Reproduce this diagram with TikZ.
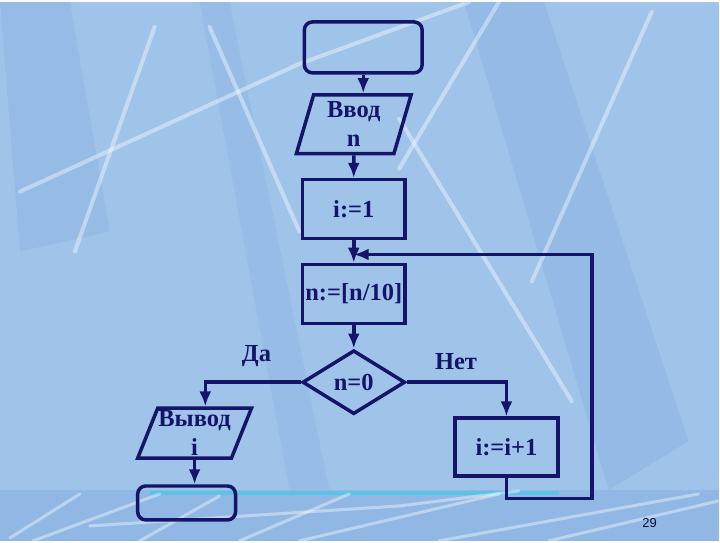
\documentclass[tikz,border=0pt]{standalone}
\usepackage{fontspec}
\setmainfont{Liberation Serif}
\setsansfont{Liberation Sans}
\usepackage{xcolor}
\usepackage{tikz}
\usetikzlibrary{calc, shapes.geometric, positioning, arrows.meta}

\definecolor{flow}{RGB}{20,20,105}
\definecolor{fon}{RGB}{160,196,233}
\definecolor{fondark}{RGB}{128,170,222}
\definecolor{polosa}{RGB}{70,200,232}

\tikzset{
    blok/.style={draw=flow, line width=3.5pt, minimum width=103pt, minimum height=59pt,
        inner sep=0pt, text=flow, font=\fontsize{24.5}{29}\selectfont\bfseries},
    term/.style={blok, rounded corners=8pt},
    vvod/.style={blok, trapezium, trapezium left angle=69, trapezium right angle=111,
        trapezium stretches body=true, align=center},
    uslovie/.style={blok, diamond, minimum height=64pt},
    svyaz/.style={draw=flow, line width=3.5pt, ->},
    metka/.style={text=flow, font=\fontsize{24.5}{29}\selectfont\bfseries},
    luch/.style={white, opacity=0.4, line width=4pt, line cap=round},
}

\begin{document}
\begin{tikzpicture}[x=1pt, y=-1pt, >={Latex[length=15pt, width=12pt]}]
    % Фон слайда
    \fill[fon] (0,0) rectangle (720,540);
    \fill[fondark, opacity=0.35] (465,0) -- (545,0) -- (690,440) -- (610,489) -- cycle;
    \fill[fondark, opacity=0.3] (0,0) -- (70,0) -- (110,230) -- (20,250) -- cycle;
    \fill[fondark, opacity=0.25] (200,0) -- (230,0) -- (330,489) -- (290,489) -- cycle;
    \draw[luch] (20,190) -- (300,62) -- (470,0);
    \draw[luch] (75,250) -- (155,25);
    \draw[luch] (210,25) -- (300,230);
    \draw[luch] (400,117) -- (573,400);
    \draw[luch] (500,0) -- (400,167);
    \draw[luch] (653,10) -- (533,280);
    % Нижняя полоса
    \fill[fondark, opacity=0.45] (0,489) rectangle (720,540);
    \draw[polosa, line width=4pt, opacity=0.7] (150,492) -- (560,492);
    \draw[luch, line width=3pt] (10,537) -- (80,493);
    \draw[luch, line width=3pt] (33,540) -- (160,493);
    \draw[luch, line width=3pt] (140,540) -- (220,495);
    \draw[luch, line width=3pt] (240,540) -- (350,493);
    \draw[luch, line width=3pt] (90,525) -- (400,505) -- (520,490);
    \draw[luch, line width=3pt] (300,540) -- (500,493);
    \draw[luch, line width=3pt] (440,540) -- (700,493);
    \draw[luch, line width=3pt] (550,540) -- (720,500);
    \useasboundingbox (0,0) rectangle (720,540);

    % Блоки схемы
    \node[term, minimum width=118pt, minimum height=51pt] (start) at (364,45.5) {};
    \node[vvod, minimum width=115pt] (inp) at (354.5,122.5) {Ввод\\n};
    \node[blok] (init) at (354.5,207.5) {i:=1};
    \node[blok] (body) at (354.5,292.5) {n:=[n/10]};
    \node[uslovie] (cond) at (354.5,381) {n=0};
    \node[vvod, minimum width=114pt, minimum height=50pt, trapezium left angle=66,
        trapezium right angle=114] (out) at (195,432) {Вывод\\i};
    \node[term, minimum width=98pt, minimum height=34pt] (end) at (187,502) {};
    \node[blok, minimum height=58pt] (inc) at (507.5,446) {i:=i+1};

    % Подписи
    \node[metka] (da) at (257,355) {Да};
    \node[metka] (net) at (457,360) {Нет};
    \node[text=flow!60!black, font=\sffamily\fontsize{13}{13}\selectfont] (nomer) at (651,522) {29};

    % Связи
    \coordinate (join) at (354.5,253);
    \coordinate (ugol) at (593,253);
    \draw[svyaz] (start.south) -- (start.south |- inp.north);
    \draw[svyaz] (inp) -- (init);
    \draw[svyaz] (init) -- (body);
    \draw[svyaz] (body) -- (cond);
    \draw[svyaz] (cond.west) -| (out.top side);
    \draw[svyaz] (out.south) -- (out.south |- end.north);
    \draw[svyaz] (cond.east) -| (inc.north);
    \draw[svyaz] (inc.south) -- ++(0,21) -| (ugol) -- (join);
\end{tikzpicture}
\end{document}
